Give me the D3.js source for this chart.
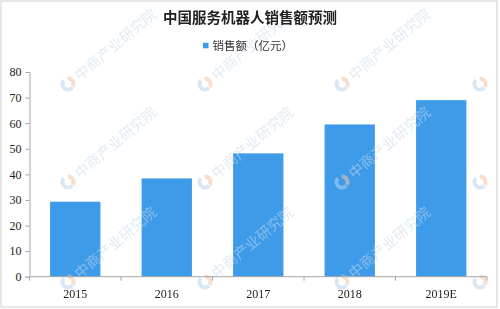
<!DOCTYPE html>
<html><head><meta charset="utf-8">
<script src="https://cdn.jsdelivr.net/npm/d3@7/dist/d3.min.js"></script>
<style>html,body{margin:0;padding:0;background:#fff}svg{display:block}</style>
</head><body>
<script>
const categories = ["2015", "2016", "2017", "2018", "2019E"];
const salesValues = [29.3, 38.4, 48.2, 59.5, 69.0];
const yTicks = [0, 10, 20, 30, 40, 50, 60, 70, 80];
const titleText = "中国服务机器人销售额预测";
const legendText = "销售额（亿元）";
const watermarkText = "中商产业研究院";

const W = 500, H = 309;
const svg = d3.select("body").append("svg").attr("width", W).attr("height", H);
svg.append("rect").attr("width", W).attr("height", H).attr("fill", "#fff");

const x = d3.scaleBand().domain(categories).range([29.5, 487]).paddingInner(0.45).paddingOuter(0.225);
const y = d3.scaleLinear().domain([0, 80]).range([276.7, 72]);

// bars
svg.append("g").selectAll("rect").data(categories).join("rect")
  .attr("x", d => x(d)).attr("width", x.bandwidth())
  .attr("y", (d, i) => y(salesValues[i]))
  .attr("height", (d, i) => y(0) - y(salesValues[i]))
  .attr("fill", "#3d9be9");

// watermarks
const wm = svg.append("g").attr("opacity", 0.55);
const wxs = [68, 205, 342, 480], wys = [84, 182, 282];
wys.forEach(wy => wxs.forEach((wx, i) => {
  const g = wm.append("g").attr("transform", `translate(${wx},${wy}) rotate(-40)`);
  const arc = d3.arc().innerRadius(3.5).outerRadius(7.5);
  g.append("path").attr("d", arc({startAngle: Math.PI * 0.95, endAngle: Math.PI * 1.95})).attr("fill", "#b9d3ee");
  g.append("path").attr("d", arc({startAngle: Math.PI * 0.2, endAngle: Math.PI * 0.9})).attr("fill", "#f3c4a8");
  if (i < wxs.length - 1) {
    g.append("text").attr("x", 11).attr("y", 5.5).attr("font-family", "Noto Sans CJK SC")
      .attr("font-size", 14.5).attr("fill", "#c9d9ea").text(watermarkText);
  }
}));

// axes
const axisColor = "#a6a6a6";
const yAxis = svg.append("g").attr("transform", "translate(29.5,0)")
  .call(d3.axisLeft(y).tickValues(yTicks).tickSize(4).tickPadding(4));
const xAxis = svg.append("g").attr("transform", `translate(0,${y(0)})`)
  .call(d3.axisBottom(x).tickSize(0).tickPadding(13));
[yAxis, xAxis].forEach(a => {
  a.select(".domain").attr("stroke", axisColor);
  a.selectAll(".tick line").attr("stroke", axisColor);
  a.selectAll("text").attr("fill", "#222").attr("font-family", "Liberation Serif");
});
yAxis.selectAll("text").attr("font-size", 12);
xAxis.selectAll("text").attr("font-size", 12);
xAxis.select(".domain").attr("d", `M29.5,0H487`);
// category boundary ticks
const bounds = categories.map(c => x(c) - x.step() * x.paddingInner() / 2).concat([487]);
xAxis.selectAll(".bound").data(bounds).join("line").attr("class", "bound")
  .attr("x1", d => d).attr("x2", d => d).attr("y1", 0).attr("y2", 4).attr("stroke", axisColor);

// title
svg.append("text").attr("x", 250).attr("y", 23).attr("text-anchor", "middle")
  .attr("font-family", "Noto Sans CJK SC").attr("font-weight", "bold").attr("font-size", 14.5)
  .attr("fill", "#222").text(titleText);

// legend
svg.append("rect").attr("x", 203).attr("y", 42.8).attr("width", 5.5).attr("height", 5.5).attr("fill", "#3d9be9");
svg.append("text").attr("x", 212.5).attr("y", 49.8)
  .attr("font-family", "Noto Sans CJK SC").attr("font-size", 11.5).attr("fill", "#333").text(legendText);

// border
svg.append("rect").attr("x", 1).attr("y", 1).attr("width", 496).attr("height", 306)
  .attr("fill", "none").attr("stroke", "#cfcfcf");
</script>
</body></html>
